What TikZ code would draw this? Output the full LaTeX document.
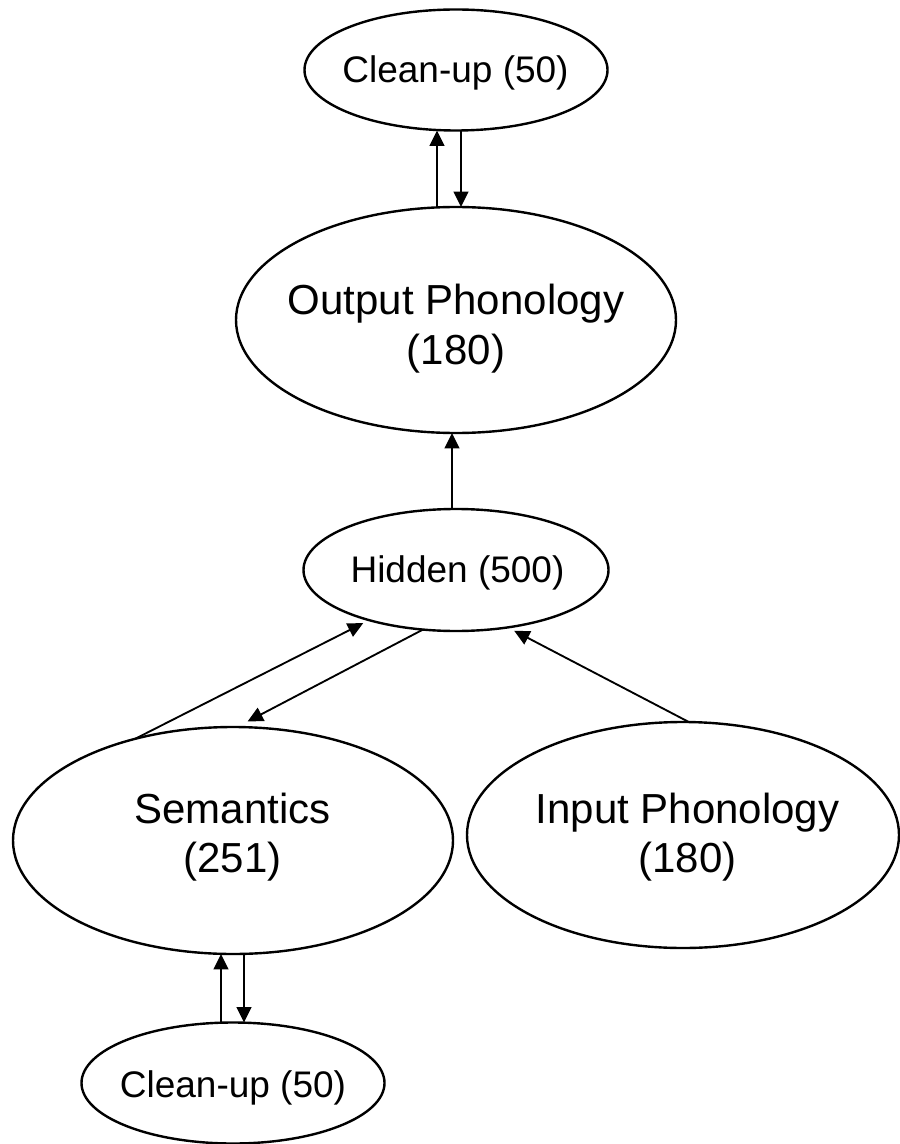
\documentclass[tikz,border=0pt]{standalone}
\usepackage{fontspec}
\setmainfont{Liberation Sans}
\usetikzlibrary{shapes.geometric,arrows.meta}
\begin{document}
\begin{tikzpicture}[x=0.75pt,y=-0.75pt,
  ell/.style={ellipse,draw=black,line width=1.8pt,inner sep=0pt,outer sep=0pt},
  small/.style={ell,minimum width=227.25pt,minimum height=90.75pt},
  large/.style={ell,minimum width=330pt,minimum height=169.5pt},
  txtbig/.style={anchor=base,inner sep=0pt,font=\fontsize{31.5}{36}\selectfont},
  txtsmall/.style={anchor=base,inner sep=0pt,font=\fontsize{27.75}{32}\selectfont},
  arr/.style={line width=1.4pt,-{Triangle[length=11.5pt,width=11pt]}}]
\useasboundingbox (0,0) rectangle (899,1144);
% ellipses
\node[small] (cu1) at (456,70) {};
\node[large] (outp) at (456,320) {};
\node[small,minimum width=228.75pt,minimum height=91.5pt] (hid) at (456,570) {};
\node[large,minimum height=170.25pt] (sem) at (233,840.5) {};
\node[large,minimum width=324pt] (inp) at (683,835) {};
\node[small] (cu2) at (233,1083) {};
% texts
\node[txtsmall] (cu1t) at (455.5,83) {Clean-up (50)};
\node[txtbig] (outpt1) at (456,315) {Output Phonology};
\node[txtbig] (outpt2) at (456,364) {(180)};
\node[txtsmall] (hidt) at (457.5,582) {Hidden (500)};
\node[txtbig] (semt1) at (232.5,823) {Semantics};
\node[txtbig] (semt2) at (232.5,872) {(251)};
\node[txtbig] (inpt1) at (687.5,823) {Input Phonology};
\node[txtbig] (inpt2) at (687.5,872) {(180)};
\node[txtsmall] (cu2t) at (233,1097) {Clean-up (50)};
% connectors
\draw[arr] ([xshift=-14.25pt]outp.north) -- ([xshift=-14.25pt]cu1.south);
\draw[arr] ([xshift=3.75pt]cu1.south) -- ([xshift=3.75pt]outp.north);
\draw[arr] ([xshift=-3pt]hid.north) -- ([xshift=-3pt]outp.south);
\draw[arr,shorten >=5pt] (sem.134.2) -- (hid.-150.1);
\draw[arr,shorten >=9pt] (hid.-119.5) -- (sem.88.5);
\draw[arr,shorten >=5.5pt] (inp.87) -- (hid.-48.9);
\draw[arr] ([xshift=-9pt]cu2.north) -- ([xshift=-9pt]sem.south);
\draw[arr] ([xshift=8.25pt]sem.south) -- ([xshift=8.25pt]cu2.north);
\end{tikzpicture}
\end{document}
